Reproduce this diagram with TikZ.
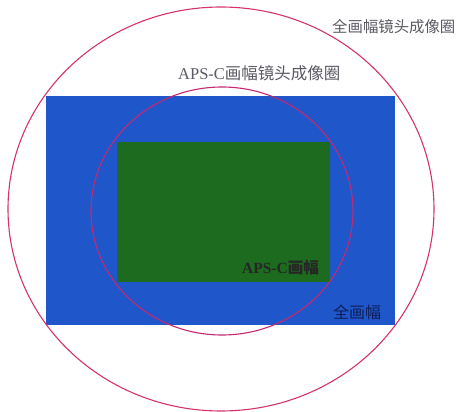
\documentclass[tikz,border=0pt]{standalone}
\usepackage{fontspec}
\setmainfont{Liberation Serif}
\newfontfamily\cjk{Noto Sans CJK SC}
\definecolor{fullblue}{HTML}{1F56C9}
\definecolor{apsgreen}{HTML}{1C6B1E}
\definecolor{ringred}{HTML}{D5336E}
\definecolor{labelgray}{HTML}{5A5A64}
\definecolor{navytext}{HTML}{0E1E5A}
\tikzset{
  ring/.style={draw=ringred, line width=1.1pt},
  lbl/.style={inner sep=0pt, anchor=west},
}
\begin{document}
\begin{tikzpicture}[x=1pt,y=-1pt]
\useasboundingbox (0,0) rectangle (459,412);
\clip (0,0) rectangle (459,412);
\fill[white] (0,0) rectangle (459,412);
% full frame sensor
\fill[fullblue] (46,96) rectangle (395,325);
% APS-C sensor
\fill[apsgreen] (117,142) rectangle (330,282);
% image circles
\draw[ring] (221,209) ellipse [x radius=213, y radius=202];
\draw[ring, draw=ringred!80!violet] (222,211) ellipse [x radius=131, y radius=124];
% labels
\node[lbl, text=labelgray, font=\cjk\fontsize{15.4}{15.4}\selectfont] (fulllbl) at (332,27) {全画幅镜头成像圈};
\node[lbl, text=labelgray, font=\fontsize{16.5}{16.5}\selectfont] (apslbl) at (178,73) {APS-C{\cjk 画幅镜头成像圈}};
\node[lbl, text=black!85, font=\bfseries\fontsize{15.5}{15.5}\selectfont] (apsframe) at (242,268) {APS-C{\cjk 画幅}};
\node[lbl, text=navytext, font=\cjk\fontsize{16}{16}\selectfont] (fullframe) at (333,312) {全画幅};
\end{tikzpicture}
\end{document}
